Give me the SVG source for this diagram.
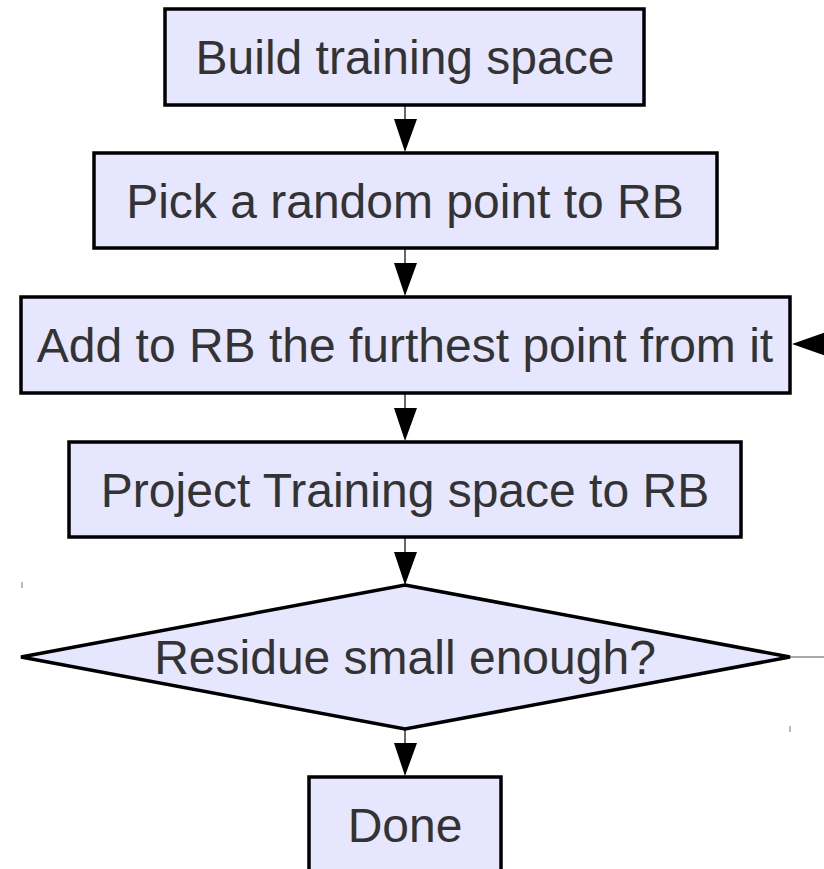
<svg xmlns="http://www.w3.org/2000/svg" width="824" height="869" viewBox="0 0 824 869">
<defs>
<style>
.n{fill:#e6e6fe;stroke:#000;stroke-width:3.5}
.t{font-family:"Liberation Sans",Arial,sans-serif;font-size:48px;fill:#333;text-anchor:middle}
.c{stroke:#000;stroke-width:1.2;fill:none}
.h{fill:#000}
</style>
</defs>
<rect width="824" height="869" fill="#fff"/>
<g id="connectors">
<line class="c" x1="405" y1="105" x2="405" y2="122"/>
<polygon class="h" points="394,119 417,119 405,152"/>
<line class="c" x1="405" y1="248" x2="405" y2="266"/>
<polygon class="h" points="394,263 417,263 405,296"/>
<line class="c" x1="405" y1="393" x2="405" y2="411"/>
<polygon class="h" points="394,408 417,408 405,441"/>
<line class="c" x1="405" y1="537" x2="405" y2="555"/>
<polygon class="h" points="394,552 417,552 405,585"/>
<line class="c" x1="405" y1="729" x2="405" y2="746"/>
<polygon class="h" points="394,743 417,743 405,776"/>
<line x1="790" y1="657" x2="824" y2="657" stroke="#555" stroke-width="1.2"/>
<polygon class="h" points="792,344 826,332 826,356"/>
<line x1="22" y1="582" x2="22" y2="588" stroke="#777" stroke-width="1"/>
<line x1="790" y1="726" x2="790" y2="732" stroke="#777" stroke-width="1"/>
</g>
<g id="build">
<rect class="n" x="165" y="9" width="479" height="96"/>
<text class="t" x="405" y="74">Build training space</text>
</g>
<g id="pick">
<rect class="n" x="94" y="153" width="623" height="95"/>
<text class="t" x="405" y="218">Pick a random point to RB</text>
</g>
<g id="add">
<rect class="n" x="21" y="297" width="769" height="96"/>
<text class="t" x="405" y="362">Add to RB the furthest point from it</text>
</g>
<g id="project">
<rect class="n" x="69" y="442" width="672" height="95"/>
<text class="t" x="405" y="507">Project Training space to RB</text>
</g>
<g id="residue">
<polygon class="n" points="405,585 790,657 405,729 21,657"/>
<text class="t" x="405" y="674">Residue small enough?</text>
</g>
<g id="done">
<rect class="n" x="309" y="777" width="192" height="100"/>
<text class="t" x="405" y="842">Done</text>
</g>
</svg>
